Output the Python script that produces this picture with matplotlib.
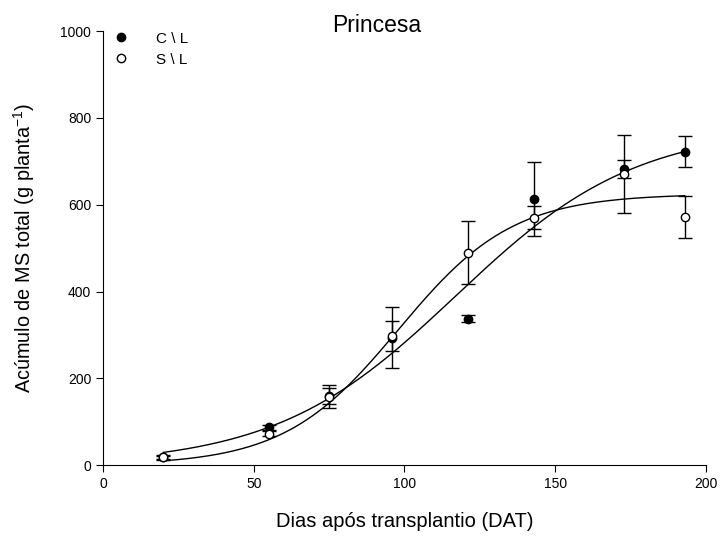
import numpy as np
import matplotlib.pyplot as plt

plt.rcParams['font.family'] = ['Liberation Sans', 'DejaVu Sans']

# dias apos transplantio
dat = [20, 55, 75, 96, 121, 143, 173, 193]

# C\L (com lona)
cl_ms = [18, 87, 160, 294, 337, 613, 682, 722]
cl_err = [6, 6, 18, 71, 8, 86, 20, 36]

# S\L (sem lona)
sl_ms = [18, 73, 158, 297, 490, 570, 670, 572]
sl_err = [3, 6, 26, 35, 73, 26, 90, 48]

# ajuste logistico: y = a / (1 + exp(-(x - x0) / b))
cl_fit = (780, 117, 30)
sl_fit = (625, 98, 19)


def logistic(x, a, x0, b):
    return a / (1 + np.exp(-(x - x0) / b))


fig = plt.figure(figsize=(7.21, 5.36), dpi=100)
ax = fig.add_axes([0.143, 0.132, 0.836, 0.810])

xs = np.linspace(dat[0], dat[-1], 300)
ax.plot(xs, logistic(xs, *cl_fit), color="black", lw=1)
ax.plot(xs, logistic(xs, *sl_fit), color="black", lw=1)

ax.errorbar(dat, cl_ms, yerr=cl_err, fmt="o", color="black", ms=6,
            mfc="black", mec="black", ecolor="black", elinewidth=1,
            capsize=5, capthick=1, label="C \\ L", zorder=3)
ax.errorbar(dat, sl_ms, yerr=sl_err, fmt="o", color="black", ms=6,
            mfc="white", mec="black", ecolor="black", elinewidth=1,
            capsize=5, capthick=1, label="S \\ L", zorder=4)

ax.set_xlim(0, 200)
ax.set_ylim(0, 1000)
ax.set_xticks([0, 50, 100, 150, 200])
ax.set_yticks([0, 200, 400, 600, 800, 1000])
ax.tick_params(direction="out", length=5, labelsize=10)
for s in ["top", "right"]:
    ax.spines[s].set_visible(False)

ax.set_xlabel("Dias após transplantio (DAT)", fontsize=14.5, labelpad=15)
ax.set_ylabel("Acúmulo de MS total (g planta$^{\\mathregular{-1}}$)", fontsize=14.3, labelpad=17)

fig.text(377 / 721, 1 - 26 / 536, "Princesa", fontsize=16.5, ha="center", va="center")

handles, labels = ax.get_legend_handles_labels()
handles = [h[0] for h in handles]
ax.legend(handles, labels, loc="upper left", bbox_to_anchor=(-0.018, 1.03),
          frameon=False, fontsize=11, handletextpad=1.3, labelspacing=0.45)

fig.savefig("out.png", dpi=100)
